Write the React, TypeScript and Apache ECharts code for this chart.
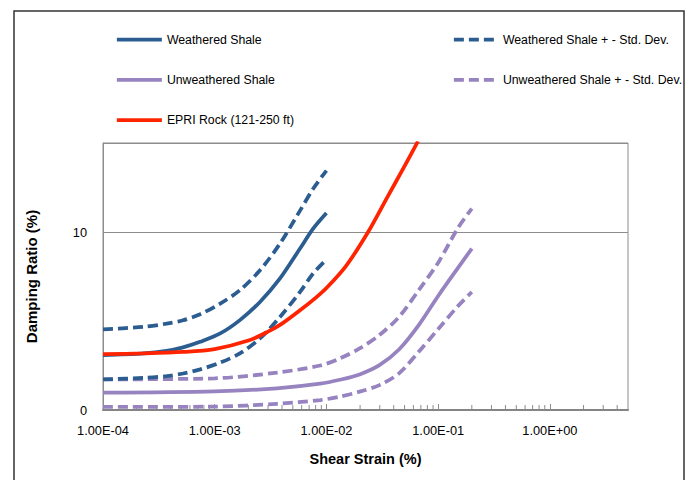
import React, { useEffect, useRef } from "react";
import * as echarts from "echarts";

// ---- Data ----
const strainW = [1e-4, 2.3e-4, 3.7e-4, 5.2e-4, 7.4e-4, 1.12e-3, 1.68e-3, 2.54e-3, 3.84e-3, 5.8e-3, 7.6e-3, 1e-2];
const weathered = [3.08, 3.18, 3.32, 3.52, 3.83, 4.3, 5.05, 6.07, 7.39, 9.07, 10.19, 11.07];
const weatheredPlus = [4.53, 4.67, 4.85, 5.04, 5.38, 5.98, 6.73, 7.85, 9.35, 11.2, 12.43, 13.45];
const weatheredMinus = [1.72, 1.8, 1.9, 2.05, 2.28, 2.66, 3.18, 4.02, 5.23, 6.63, 7.67, 8.45];

const strainU = [1e-4, 1e-3, 3.6e-3, 8.8e-3, 1.32e-2, 1.98e-2, 2.98e-2, 4.46e-2, 6.7e-2, 0.101, 0.151, 0.2];
const unweathered = [0.97, 1.04, 1.22, 1.48, 1.7, 2.0, 2.52, 3.4, 4.77, 6.45, 8.0, 9.07];
const unweatheredPlus = [1.72, 1.78, 2.1, 2.5, 2.9, 3.46, 4.21, 5.23, 6.73, 8.32, 10.25, 11.31];
const unweatheredMinus = [0.17, 0.19, 0.35, 0.56, 0.75, 1.03, 1.4, 2.06, 3.27, 4.58, 5.85, 6.63];

const strainE = [1e-4, 2.3e-4, 5.2e-4, 1e-3, 2e-3, 3e-3, 4e-3, 5.8e-3, 8e-3, 1e-2, 1.5e-2, 2.36e-2, 3.5e-2, 5e-2, 6.6e-2];
const epri = [3.14, 3.18, 3.26, 3.42, 3.9, 4.4, 4.85, 5.6, 6.3, 6.85, 8.1, 10.0, 11.95, 13.7, 15.1];

const xTickDecades = [-4, -3, -2, -1, 0];
const xTickLabels = ["1.00E-04", "1.00E-03", "1.00E-02", "1.00E-01", "1.00E+00"];
const xMinorMultipliers = [2, 3, 4, 5, 6, 7, 8, 9];
const xMin = 1e-4;
const xMax = 5;

const names = {
  w: "Weathered Shale",
  wsd: "Weathered Shale + - Std. Dev.",
  u: "Unweathered Shale",
  usd: "Unweathered Shale + - Std. Dev.",
  e: "EPRI Rock (121-250 ft)",
};

const BLUE = "#2b5d91";
const PURPLE = "#9683c0";
const RED = "#ff2400";
const GRAY = "#8c8c8c";
const FONT = "Liberation Sans";
const DASH = [10, 5];

const zip = (xs: number[], ys: number[]) => xs.map((x, i) => [x, ys[i]]);

export default function App() {
  const ref = useRef<HTMLDivElement>(null);
  useEffect(() => {
    if (!ref.current) return;
    const chart = echarts.init(ref.current, undefined, { renderer: "svg" });

    const minorTicks: number[][] = [];
    xTickDecades.forEach((d) => {
      xMinorMultipliers.forEach((m) => {
        const v = m * Math.pow(10, d);
        if (v < xMax) minorTicks.push([v, 0]);
      });
    });

    const lineSeries = (name: string, xs: number[], ys: number[], color: string, dashed: boolean, z: number) => ({
      type: "line",
      name,
      data: zip(xs, ys),
      showSymbol: false,
      symbol: "none",
      smooth: 0.3,
      z,
      lineStyle: { color, width: 3.75, type: dashed ? DASH : "solid", cap: "butt" },
      itemStyle: { color },
    });

    const legendText = { fontFamily: FONT, fontSize: 12.3, color: "#000" };
    const legendCommon = {
      orient: "vertical",
      top: 33.5,
      padding: 0,
      itemHeight: 8,
      itemGap: 28.3,
      selectedMode: false,
      textStyle: legendText,
      itemStyle: { opacity: 0 },
      lineStyle: { width: 3.75 },
    };

    chart.setOption({
      animation: false,
      backgroundColor: "#fff",
      textStyle: { fontFamily: FONT },
      grid: { left: 103, right: 59, top: 143, bottom: 70, show: true, borderColor: GRAY, borderWidth: 1 },
      legend: [
        { ...legendCommon, data: [names.w, names.u, names.e], left: 115, itemWidth: 45 },
        { ...legendCommon, data: [names.wsd, names.usd], left: 452, itemWidth: 44 },
      ],
      xAxis: {
        type: "log",
        logBase: 10,
        min: xMin,
        max: xMax,
        name: "Shear Strain (%)",
        nameLocation: "middle",
        nameGap: 41,
        nameTextStyle: { fontFamily: FONT, fontSize: 14.5, fontWeight: "bold", color: "#000" },
        axisLine: { show: true, lineStyle: { color: "#858585", width: 2 } },
        axisTick: { show: true, inside: true, length: 6, lineStyle: { color: GRAY } },
        splitLine: { show: false },
        minorTick: { show: false },
        axisLabel: {
          margin: 14,
          fontFamily: FONT,
          fontSize: 12.8,
          color: "#000",
          showMaxLabel: false,
          formatter: (v: number) => {
            const e = Math.round(Math.log10(v));
            const idx = xTickDecades.indexOf(e);
            if (idx < 0 || Math.abs(v - Math.pow(10, e)) > 1e-6 * Math.pow(10, e)) return "";
            return xTickLabels[idx];
          },
        },
      },
      yAxis: {
        type: "value",
        min: 0,
        max: 15,
        interval: 10,
        name: "Damping Ratio (%)",
        nameLocation: "middle",
        nameGap: 64,
        nameTextStyle: { fontFamily: FONT, fontSize: 15, fontWeight: "bold", color: "#000" },
        axisLine: { show: true, lineStyle: { color: GRAY, width: 1 } },
        axisTick: { show: false },
        splitLine: { show: true, lineStyle: { color: GRAY, width: 1 } },
        axisLabel: { margin: 16, fontFamily: FONT, fontSize: 12.8, color: "#000", showMaxLabel: false },
      },
      graphic: [
        {
          type: "rect",
          shape: { x: 14, y: 11, width: 670, height: 480 },
          style: { fill: "none", stroke: "#333", lineWidth: 1.5 },
          silent: true,
          z: 100,
        },
      ],
      series: [
        {
          type: "custom",
          name: "minorTicks",
          silent: true,
          z: 1,
          data: minorTicks,
          renderItem: (_p: any, api: any) => {
            const pt = api.coord([api.value(0), 0]);
            return {
              type: "line",
              shape: { x1: pt[0], y1: pt[1] - 1, x2: pt[0], y2: pt[1] - 5 },
              style: { stroke: GRAY, lineWidth: 1 },
            };
          },
        },
        lineSeries(names.usd, strainU, unweatheredPlus, PURPLE, true, 2),
        lineSeries(names.usd, strainU, unweatheredMinus, PURPLE, true, 2),
        lineSeries(names.u, strainU, unweathered, PURPLE, false, 2),
        lineSeries(names.wsd, strainW, weatheredPlus, BLUE, true, 3),
        lineSeries(names.wsd, strainW, weatheredMinus, BLUE, true, 3),
        lineSeries(names.w, strainW, weathered, BLUE, false, 3),
        lineSeries(names.e, strainE, epri, RED, false, 4),
      ],
    });
    return () => chart.dispose();
  }, []);
  return <div ref={ref} style={{ position: "absolute", left: 0, top: 0, width: 687, height: 480 }} />;
}
